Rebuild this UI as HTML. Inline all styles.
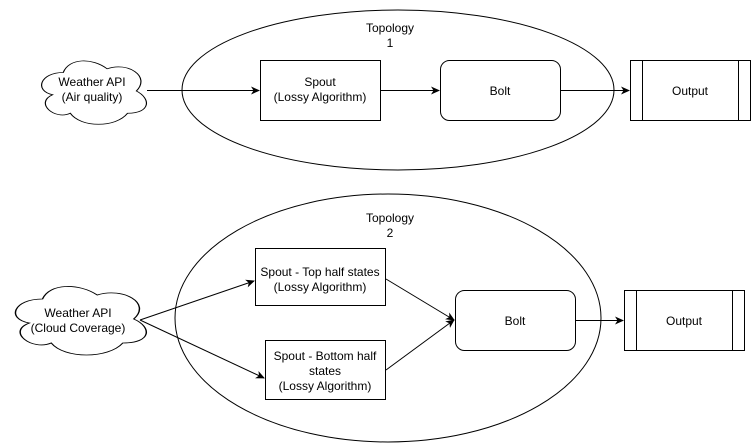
<!DOCTYPE html>
<html><head><style>body{margin:0;background:#fff}svg{display:block}text{font-family:"Liberation Sans",Arial,sans-serif;font-size:12px;fill:#000;text-anchor:middle}</style></head>
<body>
<svg width="751" height="446" viewBox="0 0 751 446">
<defs>
<marker id="a" markerWidth="10" markerHeight="10" refX="8" refY="5" orient="auto" markerUnits="userSpaceOnUse"><path d="M0,1 L9,5 L0,9 L2.5,5 Z" fill="#000"/></marker>
<path id="cl" d="M25,25 C5,25 0,50 16,55 C0,66 18,90 31,80 C40,100 70,100 80,80 C100,80 100,60 87.5,50 C100,30 80,10 62.5,20 C50,5 30,5 25,25 Z"/>
</defs>
<g fill="none" stroke="#000" stroke-width="1">
<ellipse cx="398" cy="90" rx="216" ry="80"/>
<ellipse cx="388" cy="318" rx="213" ry="124"/>
<g transform="translate(34,54) scale(1.17,0.74)"><use href="#cl" vector-effect="non-scaling-stroke"/></g>
<g transform="translate(6,279) scale(1.46,0.8)"><use href="#cl" vector-effect="non-scaling-stroke"/></g>
<rect x="260.5" y="60.5" width="120" height="60" fill="#fff"/>
<rect x="440.5" y="60.5" width="120" height="60" rx="9" fill="#fff"/>
<rect x="630.5" y="60.5" width="120" height="60" fill="#fff"/>
<line x1="642.5" y1="60" x2="642.5" y2="121"/><line x1="738.5" y1="60" x2="738.5" y2="121"/>
<rect x="255.5" y="248.5" width="130" height="57" fill="#fff"/>
<rect x="265.5" y="340.5" width="120" height="59" fill="#fff"/>
<rect x="455.5" y="290.5" width="120" height="60" rx="9" fill="#fff"/>
<rect x="624.5" y="290.5" width="120" height="60" fill="#fff"/>
<line x1="636.5" y1="290" x2="636.5" y2="351"/><line x1="732.5" y1="290" x2="732.5" y2="351"/>
<line x1="147" y1="90.5" x2="259" y2="90.5" marker-end="url(#a)"/>
<line x1="381" y1="90.5" x2="439" y2="90.5" marker-end="url(#a)"/>
<line x1="561" y1="90.5" x2="629" y2="90.5" marker-end="url(#a)"/>
<line x1="140" y1="320" x2="254" y2="281" marker-end="url(#a)"/>
<line x1="140" y1="320" x2="264" y2="378" marker-end="url(#a)"/>
<line x1="386" y1="279" x2="454" y2="320" marker-end="url(#a)"/>
<line x1="386" y1="370" x2="454" y2="320" marker-end="url(#a)"/>
<line x1="576" y1="320.5" x2="623" y2="320.5" marker-end="url(#a)"/>
</g>
<text x="390" y="32">Topology</text><text x="390" y="47">1</text>
<text x="390" y="222">Topology</text><text x="390" y="237">2</text>
<text x="92" y="86">Weather API</text><text x="92" y="101">(Air quality)</text>
<text x="78" y="317">Weather API</text><text x="78" y="332">(Cloud Coverage)</text>
<text x="320" y="86">Spout</text><text x="320" y="101">(Lossy Algorithm)</text>
<text x="500" y="95">Bolt</text>
<text x="690" y="95">Output</text>
<text x="320" y="276">Spout - Top half states</text><text x="320" y="291">(Lossy Algorithm)</text>
<text x="325" y="360">Spout - Bottom half</text><text x="325" y="375">states</text><text x="325" y="390">(Lossy Algorithm)</text>
<text x="515" y="325">Bolt</text>
<text x="684" y="325">Output</text>
</svg>
</body></html>
